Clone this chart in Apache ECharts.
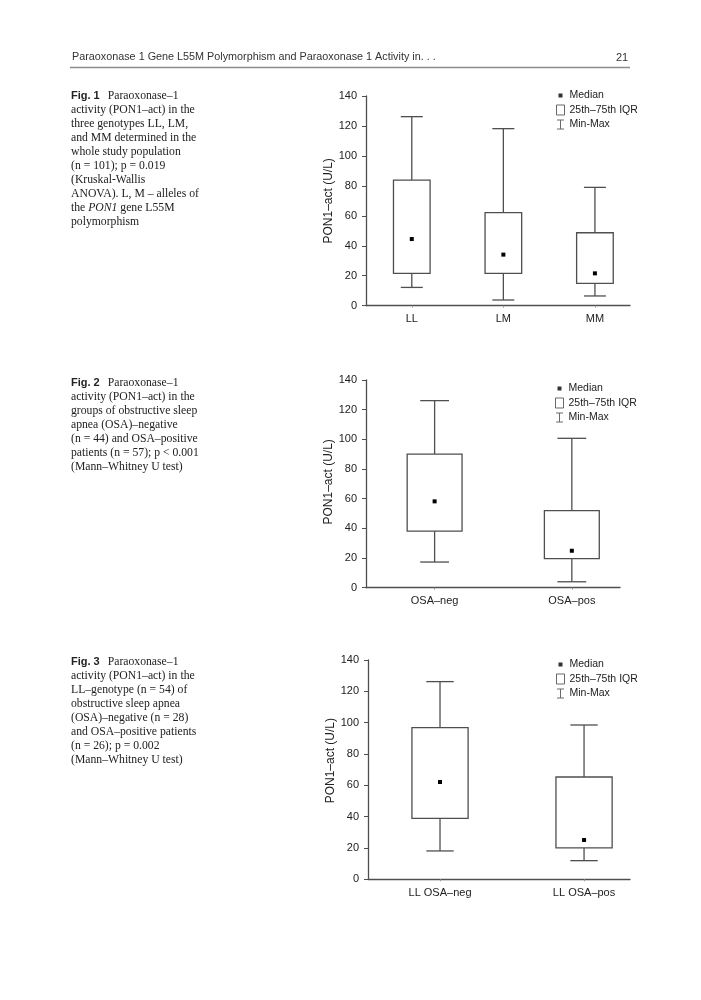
<!DOCTYPE html>
<html><head><meta charset="utf-8">
<script src="https://cdn.jsdelivr.net/npm/echarts@6/dist/echarts.min.js"></script>
<style>html,body{margin:0;padding:0;background:#fff}#c{width:701px;height:1000px}</style>
</head><body><div id="c"></div>
<script>
// ---- axis ticks ----
const yAxisMin = 0, yAxisMax = 140, yAxisStep = 20;
const yAxisName = 'PON1–act (U/L)';

// ---- Fig. 1 ----
const fig1Categories = ['LL', 'LM', 'MM'];
const fig1Min    = [12.2, 3.8, 6.5];
const fig1Q1     = [21.6, 21.6, 14.9];
const fig1Median = [44.5, 34.1, 21.6];
const fig1Q3     = [83.9, 62.1, 48.7];
const fig1Max    = [126.2, 118.2, 79.0];

// ---- Fig. 2 ----
const fig2Categories = ['OSA–neg', 'OSA–pos'];
const fig2Min    = [17.3, 4.0];
const fig2Q1     = [38.2, 19.6];
const fig2Median = [58.2, 24.9];
const fig2Q3     = [90.1, 51.9];
const fig2Max    = [126.1, 100.7];

// ---- Fig. 3 ----
const fig3Categories = ['LL OSA–neg', 'LL OSA–pos'];
const fig3Min    = [18.1, 11.9];
const fig3Q1     = [38.9, 20.0];
const fig3Median = [62.1, 25.1];
const fig3Q3     = [96.8, 65.3];
const fig3Max    = [126.2, 98.5];

const legendNames = ['Median', '25th–75th IQR', 'Min-Max'];

const headerText = 'Paraoxonase 1 Gene L55M Polymorphism and Paraoxonase 1 Activity in. . .';
const pageNumber = '21';
const caption1 = [['Fig. 1', 'Paraoxonase–1'], 'activity (PON1–act) in the', 'three genotypes LL, LM,', 'and MM determined in the',
  'whole study population', '(n = 101); p = 0.019', '(Kruskal-Wallis', 'ANOVA). L, M – alleles of', ['the ', 'PON1', ' gene L55M'], 'polymorphism'];
const caption2 = [['Fig. 2', 'Paraoxonase–1'], 'activity (PON1–act) in the', 'groups of obstructive sleep', 'apnea (OSA)–negative',
  '(n = 44) and OSA–positive', 'patients (n = 57); p < 0.001', '(Mann–Whitney U test)'];
const caption3 = [['Fig. 3', 'Paraoxonase–1'], 'activity (PON1–act) in the', 'LL–genotype (n = 54) of', 'obstructive sleep apnea',
  '(OSA)–negative (n = 28)', 'and OSA–positive patients', '(n = 26); p = 0.002', '(Mann–Whitney U test)'];

function captionRich(lines) {
  return lines.map(function (l, i) {
    if (i === 0) return '{b|' + l[0] + '}{r|' + l[1] + '}';
    if (Array.isArray(l)) return '{r|' + l[0] + '}{i|' + l[1] + '}{r|' + l[2] + '}';
    return '{r|' + l + '}';
  }).join('\n');
}
const serif = 'Liberation Serif';
const sans = 'Liberation Sans';
const capRich = {
  b: { fontFamily: sans, fontWeight: 'bold', fontSize: 11, color: '#222', lineHeight: 14, padding: [0, 8, 0, 0] },
  r: { fontFamily: serif, fontWeight: 'normal', fontSize: 11.7, color: '#222', lineHeight: 14 },
  i: { fontFamily: serif, fontWeight: 'normal', fontStyle: 'italic', fontSize: 11.7, color: '#222', lineHeight: 14 }
};

const lineColor = '#4f4f4f';

function makeRenderer(boxFrac, capFrac) {
  return function (params, api) {
    const x = api.value(0);
    const unit = api.size([1, 0])[0];
    const bw = unit * boxFrac, cw = unit * capFrac;
    const pMin = api.coord([x, api.value(1)]);
    const pQ1 = api.coord([x, api.value(2)]);
    const pMed = api.coord([x, api.value(3)]);
    const pQ3 = api.coord([x, api.value(4)]);
    const pMax = api.coord([x, api.value(5)]);
    const cx = pMin[0];
    const st = { stroke: lineColor, lineWidth: 1.3, fill: null };
    return {
      type: 'group',
      children: [
        { type: 'line', shape: { x1: cx, y1: pQ3[1], x2: cx, y2: pMax[1] }, style: st },
        { type: 'line', shape: { x1: cx - cw / 2, y1: pMax[1], x2: cx + cw / 2, y2: pMax[1] }, style: st },
        { type: 'line', shape: { x1: cx, y1: pQ1[1], x2: cx, y2: pMin[1] }, style: st },
        { type: 'line', shape: { x1: cx - cw / 2, y1: pMin[1], x2: cx + cw / 2, y2: pMin[1] }, style: st },
        { type: 'rect', shape: { x: cx - bw / 2, y: pQ3[1], width: bw, height: pQ1[1] - pQ3[1] }, style: { stroke: lineColor, lineWidth: 1.3, fill: 'none' } },
        { type: 'rect', shape: { x: pMed[0] - 2, y: pMed[1] - 2, width: 4, height: 4 }, style: { fill: '#000' } }
      ]
    };
  };
}

function buildData(cats, mn, q1, md, q3, mx) {
  return cats.map(function (c, i) { return [i, mn[i], q1[i], md[i], q3[i], mx[i]]; });
}

const figs = [
  { cats: fig1Categories, data: buildData(fig1Categories, fig1Min, fig1Q1, fig1Median, fig1Q3, fig1Max),
    grid: { left: 366, top: 96, width: 264, height: 209.7 }, xMax: 2.383, box: 0.40, cap: 0.24,
    legend: { left: 551, top: 85 }, namePad: [0, 0, 0, 0] },
  { cats: fig2Categories, data: buildData(fig2Categories, fig2Min, fig2Q1, fig2Median, fig2Q3, fig2Max),
    grid: { left: 366, top: 380, width: 254, height: 207.7 }, xMax: 1.351, box: 0.40, cap: 0.21,
    legend: { left: 550, top: 378 }, namePad: [0, 0, 0, 4] },
  { cats: fig3Categories, data: buildData(fig3Categories, fig3Min, fig3Q1, fig3Median, fig3Q3, fig3Max),
    grid: { left: 368, top: 660, width: 262, height: 219.3 }, xMax: 1.319, box: 0.39, cap: 0.19,
    legend: { left: 551, top: 654 }, namePad: [0, 0, 0, 18] }
];

const option = {
  backgroundColor: '#fff',
  animation: false,
  title: [
    { text: headerText, left: 67, top: 47, textStyle: { fontFamily: sans, fontSize: 10.8, fontWeight: 'normal', color: '#333' } },
    { text: pageNumber, left: 611, top: 47, textStyle: { fontFamily: sans, fontSize: 11, fontWeight: 'normal', color: '#333' } },
    { text: captionRich(caption1), left: 66, top: 84, textStyle: { rich: capRich } },
    { text: captionRich(caption2), left: 66, top: 371, textStyle: { rich: capRich } },
    { text: captionRich(caption3), left: 66, top: 650, textStyle: { rich: capRich } }
  ],
  graphic: [
    { type: 'line', shape: { x1: 70, y1: 67.5, x2: 630, y2: 67.5 }, style: { stroke: '#8c8c8c', lineWidth: 1.6 } }
  ],
  grid: figs.map(function (f) { return Object.assign({ containLabel: false }, f.grid); }),
  xAxis: figs.map(function (f, k) {
    const ticks = f.cats.map(function (c, i) { return i; });
    return {
      type: 'value', gridIndex: k, min: -0.5, max: f.xMax,
      splitLine: { show: false },
      axisLine: { show: true, onZero: false, lineStyle: { color: lineColor, width: 1.3 } },
      axisTick: { show: true, customValues: ticks, length: 2, lineStyle: { color: '#999' } },
      axisLabel: { customValues: ticks, margin: 8, fontFamily: sans, fontSize: 11, color: '#222',
        formatter: function (v) { return f.cats[Math.round(v)]; } }
    };
  }),
  yAxis: figs.map(function (f, k) {
    return {
      type: 'value', gridIndex: k, min: yAxisMin, max: yAxisMax, interval: yAxisStep,
      name: yAxisName, nameLocation: 'middle', nameGap: 25,
      nameTextStyle: { fontFamily: sans, fontSize: 12, color: '#222', padding: f.namePad },
      splitLine: { show: false },
      axisLine: { show: true, onZero: false, lineStyle: { color: lineColor, width: 1.3 } },
      axisTick: { show: true, length: 4, lineStyle: { color: lineColor } },
      axisLabel: { margin: 9, fontFamily: sans, fontSize: 11, color: '#222' }
    };
  }),
  legend: figs.map(function (f) {
    return {
      orient: 'vertical', left: f.legend.left, top: f.legend.top, itemWidth: 8, itemHeight: 10, itemGap: 3.5,
      selectedMode: false,
      textStyle: { fontFamily: sans, fontSize: 10.5, color: '#222' },
      data: [
        { name: legendNames[0], icon: 'path://M0,0M8,10M2,3h4v4h-4z', itemStyle: { color: '#000' } },
        { name: legendNames[1], icon: 'rect', itemStyle: { color: '#fff', borderColor: '#444', borderWidth: 1 } },
        { name: legendNames[2], icon: 'path://M0,0H7V1H4V9H7V10H0V9H3V1H0Z', itemStyle: { color: '#444' } }
      ]
    };
  }),
  series: figs.map(function (f, k) {
    return {
      type: 'custom', name: 'box' + (k + 1), xAxisIndex: k, yAxisIndex: k,
      renderItem: makeRenderer(f.box, f.cap),
      encode: { x: 0, y: [1, 2, 3, 4, 5] },
      data: f.data, silent: true
    };
  }).concat(legendNames.map(function (n) {
    return { type: 'scatter', name: n, xAxisIndex: 0, yAxisIndex: 0, data: [], itemStyle: { color: '#222' } };
  }))
};

const chart = echarts.init(document.getElementById('c'), null, { renderer: 'canvas' });
chart.setOption(option);
</script>
</body></html>
